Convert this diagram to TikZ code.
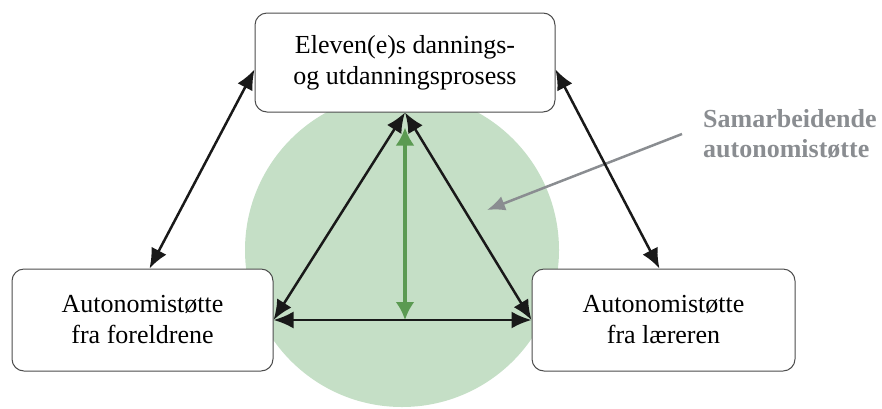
\documentclass[tikz,border=0pt]{standalone}
\usepackage{fontspec}
\setmainfont{Liberation Serif}
\newfontfamily\timesfont{Liberation Serif}
\usepackage{tikz}
\usetikzlibrary{arrows.meta,positioning}
\definecolor{circgreen}{HTML}{C5DFC6}
\definecolor{arrgreen}{HTML}{5B9A52}
\definecolor{notegray}{HTML}{8A8D91}
\tikzstyle{box}=[rectangle,rounded corners=12pt,draw=black!70,line width=1pt,fill=white,align=center,font=\timesfont\fontsize{26}{31}\selectfont]
\tikzstyle{link}=[{Latex[length=20pt,width=17pt]}-{Latex[length=20pt,width=17pt]},line width=2.5pt,draw=black!90]
\tikzstyle{greenlink}=[{Latex[length=18pt,width=19pt]}-{Latex[length=18pt,width=19pt]},line width=4.5pt,draw=arrgreen]
\tikzstyle{note}=[align=left,text=notegray,inner xsep=21pt,font=\timesfont\fontsize{26}{30}\selectfont\bfseries]

\begin{document}
\begin{tikzpicture}[x=1pt,y=-1pt]
    \useasboundingbox (0,0) rectangle (882,408);

    % green background
    \fill[circgreen] (402,250) circle[radius=157pt];

    \node[box,minimum width=300pt,minimum height=99pt] (elev) at (405,62.5) {Eleven(e)s dannings-\\og utdanningsprosess};
    \node[box,minimum width=261pt,minimum height=102pt] (foreld) at (142.5,320) {Autonomistøtte\\fra foreldrene};
    \node[box,minimum width=263pt,minimum height=102pt] (laerer) at (663.5,320) {Autonomistøtte\\fra læreren};
    \node[note,anchor=west] (samarb) at (682,134) {Samarbeidende\\autonomistøtte};
    \coordinate (basemid) at (405,320);
    \coordinate (circpt) at (487,210);

    \draw[greenlink] ([yshift=-15pt]elev.south) -- (basemid);
    \draw[-{Latex[length=18pt,width=15pt]},line width=2.5pt,draw=notegray] (samarb.west) -- (circpt);
    \draw[link] ([xshift=7pt]foreld.north) -- ([yshift=-7pt]elev.west);
    \draw[link] ([yshift=-7pt]elev.east) -- ([xshift=-4pt]laerer.north);
    \draw[link] (elev.south) -- (foreld.east);
    \draw[link] (elev.south) -- (laerer.west);
    \draw[link] (foreld.east) -- (laerer.west);
\end{tikzpicture}
\end{document}
